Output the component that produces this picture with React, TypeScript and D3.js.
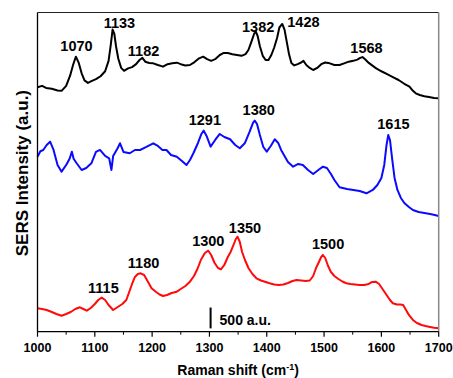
import React from "react";
import * as d3 from "d3";

const W = 453;
const H = 378;

// Raman shift (cm-1), intensity (a.u., stacked offsets included)
const blackSpectrum: [number, number][] = [
  [1000, 5866], [1008, 5900], [1015, 5850], [1025, 5830], [1035, 5790], [1042, 5780],
  [1050, 5900], [1057, 6150], [1062, 6400], [1067, 6600], [1072, 6450], [1077, 6200],
  [1082, 6030], [1088, 5970], [1095, 6020], [1102, 6060], [1110, 6130], [1118, 6250],
  [1124, 6500], [1128, 6900], [1131, 7250], [1134, 7150], [1137, 6850], [1141, 6550],
  [1146, 6330], [1151, 6260], [1158, 6320], [1165, 6350], [1172, 6420], [1178, 6520],
  [1183, 6570], [1188, 6480], [1195, 6450], [1202, 6440], [1210, 6400], [1219, 6360],
  [1227, 6420], [1235, 6440], [1243, 6456], [1250, 6420], [1258, 6390], [1266, 6400],
  [1274, 6470], [1282, 6560], [1289, 6600], [1296, 6540], [1303, 6500], [1310, 6540],
  [1318, 6640], [1325, 6690], [1332, 6690], [1340, 6660], [1348, 6640], [1356, 6620],
  [1363, 6660], [1368, 6760], [1373, 6950], [1378, 7150], [1381, 7200], [1384, 7100],
  [1388, 6850], [1393, 6620], [1398, 6520], [1403, 6520], [1408, 6640], [1413, 6820],
  [1418, 7050], [1422, 7300], [1427, 7385], [1431, 7250], [1435, 6950], [1439, 6650],
  [1443, 6450], [1448, 6390], [1454, 6420], [1460, 6460], [1464, 6500], [1469, 6400],
  [1475, 6330], [1481, 6280], [1488, 6330], [1495, 6420], [1502, 6460], [1510, 6440],
  [1518, 6400], [1527, 6400], [1535, 6440], [1543, 6480], [1551, 6500], [1558, 6530],
  [1563, 6570], [1567, 6590], [1572, 6530], [1578, 6450], [1585, 6380], [1591, 6320],
  [1600, 6250], [1610, 6180], [1620, 6110], [1630, 6040], [1640, 5950], [1649, 5880],
  [1655, 5780], [1660, 5720], [1667, 5680], [1675, 5650], [1683, 5630], [1692, 5610],
  [1700, 5600],
];

const blueSpectrum: [number, number][] = [
  [1000, 4200], [1005, 4330], [1010, 4361], [1016, 4480], [1022, 4560], [1028, 4361],
  [1035, 4001], [1042, 3840], [1050, 4001], [1056, 4150], [1060, 4320], [1063, 4150],
  [1068, 4049], [1077, 3881], [1085, 3929], [1094, 4042], [1102, 4313], [1109, 4361],
  [1118, 4217], [1125, 4162], [1129, 3881], [1132, 4217], [1140, 4409], [1144, 4522],
  [1150, 4313], [1161, 4282], [1170, 4361], [1179, 4361], [1190, 4433], [1202, 4522],
  [1210, 4457], [1218, 4361], [1225, 4361], [1233, 4241], [1243, 4200], [1252, 4097],
  [1260, 4001], [1266, 4121], [1272, 4282], [1280, 4529], [1286, 4745], [1290, 4824],
  [1295, 4697], [1302, 4440], [1310, 4601], [1318, 4745], [1326, 4673], [1336, 4618],
  [1345, 4481], [1353, 4402], [1362, 4529], [1370, 4793], [1376, 5009], [1379, 5064],
  [1383, 4985], [1388, 4721], [1394, 4433], [1400, 4320], [1407, 4457], [1414, 4618],
  [1420, 4529], [1425, 4361], [1430, 4241], [1437, 4073], [1446, 3960], [1455, 4025],
  [1463, 4001], [1472, 3881], [1481, 3785], [1490, 3881], [1498, 3960], [1505, 3929],
  [1512, 3785], [1518, 3641], [1527, 3466], [1540, 3425], [1551, 3401], [1562, 3377],
  [1574, 3322], [1585, 3401], [1593, 3521], [1600, 3689], [1605, 4001], [1609, 4481],
  [1612, 4721], [1615, 4601], [1619, 4121], [1623, 3689], [1628, 3401], [1634, 3209],
  [1640, 3089], [1648, 2993], [1655, 2921], [1665, 2873], [1675, 2849], [1685, 2825],
  [1693, 2801], [1700, 2777],
];

const redSpectrum: [number, number][] = [
  [1000, 562], [1008, 545], [1016, 521], [1025, 473], [1033, 425], [1042, 384],
  [1050, 425], [1058, 473], [1066, 545], [1074, 586], [1080, 545], [1086, 504],
  [1093, 569], [1100, 665], [1106, 761], [1112, 816], [1118, 761], [1124, 641],
  [1132, 521], [1140, 593], [1148, 665], [1155, 761], [1160, 953], [1165, 1145],
  [1170, 1313], [1175, 1385], [1180, 1402], [1186, 1361], [1192, 1217], [1199, 1042],
  [1207, 953], [1213, 893], [1219, 857], [1226, 881], [1234, 929], [1243, 960],
  [1250, 1025], [1258, 1097], [1266, 1200], [1273, 1337], [1279, 1505], [1285, 1721],
  [1292, 1889], [1298, 1944], [1303, 1841], [1309, 1649], [1315, 1529], [1320, 1498],
  [1326, 1601], [1332, 1793], [1337, 1913], [1342, 2081], [1346, 2225], [1349, 2280],
  [1353, 2153], [1357, 1913], [1362, 1721], [1368, 1529], [1375, 1385], [1382, 1282],
  [1390, 1229], [1398, 1193], [1405, 1162], [1413, 1133], [1421, 1121], [1429, 1133],
  [1437, 1169], [1445, 1217], [1452, 1241], [1460, 1229], [1468, 1217], [1475, 1229],
  [1481, 1337], [1486, 1529], [1491, 1673], [1495, 1793], [1498, 1841], [1502, 1769],
  [1507, 1577], [1512, 1433], [1518, 1337], [1525, 1265], [1532, 1205], [1539, 1162],
  [1546, 1145], [1554, 1133], [1562, 1121], [1570, 1121], [1578, 1145], [1584, 1193],
  [1590, 1200], [1596, 1145], [1602, 1025], [1609, 881], [1615, 761], [1620, 682],
  [1627, 653], [1633, 653], [1638, 641], [1643, 521], [1648, 401], [1655, 281],
  [1662, 209], [1670, 161], [1677, 137], [1685, 113], [1692, 94], [1700, 82],
];

// peak labels: [text, anchor shift, anchor intensity (baseline)]
const blackLabels: [string, number, number][] = [
  ["1070", 1068, 6744], ["1133", 1143, 7282], ["1182", 1185, 6617],
  ["1382", 1385, 7200], ["1428", 1464, 7306], ["1568", 1574, 6682],
];
const blueLabels: [string, number, number][] = [
  ["1291", 1292, 4961], ["1380", 1386, 5201], ["1615", 1621, 4858],
];
const redLabels: [string, number, number][] = [
  ["1115", 1115, 922], ["1180", 1185, 1517], ["1300", 1298, 2057],
  ["1350", 1362, 2357], ["1500", 1507, 1973],
];

const xTicks = [1000, 1100, 1200, 1300, 1400, 1500, 1600, 1700];
const xMinorTicks = [1050, 1150, 1250, 1350, 1450, 1550, 1650];

const scaleBarShift = 1302;
const scaleBarBase = 80;
const scaleBarSize = 500;

export default function App() {
  const left = 37.5;
  const right = 438.7;
  const top = 12.5;
  const bottom = 331.7;

  const x = d3.scaleLinear().domain([1000, 1700]).range([left, right]);
  const y = d3.scaleLinear().domain([0, 7660]).range([bottom, top]);

  const line = d3
    .line<[number, number]>()
    .x((d) => x(d[0]))
    .y((d) => y(d[1]))
    .curve(d3.curveLinear);

  const font = "'Liberation Sans', Arial, sans-serif";

  const series: { data: [number, number][]; color: string; labels: [string, number, number][] }[] = [
    { data: blackSpectrum, color: "#000000", labels: blackLabels },
    { data: blueSpectrum, color: "#0a0aff", labels: blueLabels },
    { data: redSpectrum, color: "#ff0a0a", labels: redLabels },
  ];

  return (
    <svg
      width={W}
      height={H}
      style={{ position: "absolute", left: 0, top: 0, background: "#fff" }}
      fontFamily={font}
    >
      <rect x={0} y={0} width={W} height={H} fill="#fff" />
      {series.map((s, i) => (
        <path
          key={i}
          d={line(s.data) || ""}
          fill="none"
          stroke={s.color}
          strokeWidth={2}
          strokeLinejoin="round"
        />
      ))}
      {series.map((s, i) =>
        s.labels.map((l, j) => (
          <text
            key={`${i}-${j}`}
            x={x(l[1])}
            y={y(l[2])}
            textAnchor="middle"
            fontSize={14.5}
            fontWeight="bold"
            fill="#000"
          >
            {l[0]}
          </text>
        ))
      )}
      {/* frame */}
      <line x1={left} x2={right} y1={top} y2={top} stroke="#222" strokeWidth={1} />
      <line x1={right} x2={right} y1={top} y2={bottom} stroke="#888" strokeWidth={1.5} />
      <line x1={left} x2={left} y1={top} y2={bottom} stroke="#000" strokeWidth={1.3} />
      <line x1={left} x2={right} y1={bottom} y2={bottom} stroke="#000" strokeWidth={1.3} />
      {xTicks.map((t) => (
        <g key={t}>
          <line x1={x(t)} x2={x(t)} y1={bottom} y2={bottom + 5} stroke="#000" strokeWidth={1.2} />
          <text
            x={x(t)}
            y={351.7}
            textAnchor="middle"
            fontSize={12.5}
            fontWeight="bold"
            fill="#000"
          >
            {t}
          </text>
        </g>
      ))}
      {xMinorTicks.map((t) => (
        <line key={t} x1={x(t)} x2={x(t)} y1={bottom} y2={bottom + 3} stroke="#000" strokeWidth={1} />
      ))}
      {/* scale bar */}
      <line
        x1={x(scaleBarShift)}
        x2={x(scaleBarShift)}
        y1={y(scaleBarBase)}
        y2={y(scaleBarBase + scaleBarSize)}
        stroke="#000"
        strokeWidth={2}
      />
      <text x={x(scaleBarShift) + 9} y={325} fontSize={14} fontWeight="bold" fill="#000">
        500 a.u.
      </text>
      {/* axis titles */}
      <text
        transform={`translate(28, ${(top + bottom) / 2 + 1}) rotate(-90)`}
        textAnchor="middle"
        fontSize={17}
        fontWeight="bold"
        fill="#000"
      >
        SERS Intensity (a.u.)
      </text>
      <text x={(left + right) / 2} y={374.5} textAnchor="middle" fontSize={14} fontWeight="bold" fill="#000">
        Raman shift (cm
        <tspan dy={-5} fontSize={9}>-1</tspan>
        <tspan dy={5}>)</tspan>
      </text>
    </svg>
  );
}
